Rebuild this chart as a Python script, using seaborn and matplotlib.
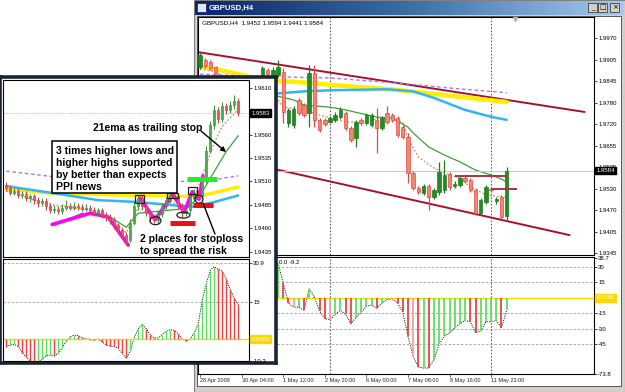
import numpy as np
import matplotlib
matplotlib.use("Agg")
import matplotlib.pyplot as plt
from matplotlib.patches import Rectangle, Ellipse
from matplotlib.colors import LinearSegmentedColormap
import seaborn as sns

sns.set_theme(style="white")
plt.rcParams['font.family'] = ['Liberation Sans', 'DejaVu Sans']
plt.rcParams['axes.linewidth'] = 0.8

# ---------------- main chart data: GBPUSD H4 ----------------
main_open = [1.9886, 1.9906, 1.9900, 1.9886, 1.9848, 1.9825, 1.9842, 1.9819, 1.9804, 1.9831,
             1.9848, 1.9833, 1.9854, 1.9877, 1.9857, 1.9863, 1.9871, 1.9723, 1.9717, 1.9790,
             1.9775, 1.9752, 1.9868, 1.9732, 1.9732, 1.9726, 1.9732, 1.9741, 1.9752, 1.9709,
             1.9680, 1.9732, 1.9723, 1.9717, 1.9732, 1.9709, 1.9752, 1.9746, 1.9738, 1.9712,
             1.9682, 1.9578, 1.9534, 1.9520, 1.9540, 1.9508, 1.9523, 1.9528, 1.9575, 1.9540,
             1.9543, 1.9563, 1.9557, 1.9528, 1.9461, 1.9494, 1.9531, 1.9496, 1.9508, 1.9452]
main_close = [1.9921, 1.9889, 1.9883, 1.9848, 1.9825, 1.9842, 1.9819, 1.9804, 1.9831, 1.9848,
              1.9833, 1.9857, 1.9883, 1.9866, 1.9877, 1.9886, 1.9755, 1.9761, 1.9764, 1.9752,
              1.9746, 1.9868, 1.9732, 1.9703, 1.9720, 1.9738, 1.9746, 1.9761, 1.9709, 1.9674,
              1.9726, 1.9723, 1.9746, 1.9746, 1.9709, 1.9738, 1.9726, 1.9732, 1.9688, 1.9682,
              1.9578, 1.9534, 1.9523, 1.9540, 1.9508, 1.9528, 1.9581, 1.9572, 1.9537, 1.9546,
              1.9563, 1.9555, 1.9528, 1.9461, 1.9499, 1.9537, 1.9528, 1.9502, 1.9450, 1.9584]
main_high = [1.9929, 1.9912, 1.9906, 1.9889, 1.9851, 1.9846, 1.9846, 1.9822, 1.9835, 1.9852,
             1.9852, 1.9860, 1.9889, 1.9883, 1.9886, 1.9906, 1.9883, 1.9767, 1.9773, 1.9796,
             1.9781, 1.9892, 1.9892, 1.9738, 1.9738, 1.9743, 1.9755, 1.9770, 1.9758, 1.9714,
             1.9732, 1.9738, 1.9752, 1.9752, 1.9767, 1.9743, 1.9773, 1.9752, 1.9743, 1.9717,
             1.9694, 1.9583, 1.9540, 1.9546, 1.9546, 1.9534, 1.9610, 1.9615, 1.9581, 1.9555,
             1.9569, 1.9569, 1.9563, 1.9534, 1.9505, 1.9543, 1.9537, 1.9508, 1.9514, 1.9594]
main_low = [1.9880, 1.9883, 1.9877, 1.9842, 1.9820, 1.9820, 1.9815, 1.9798, 1.9800, 1.9828,
            1.9830, 1.9830, 1.9848, 1.9860, 1.9851, 1.9857, 1.9723, 1.9712, 1.9708, 1.9746,
            1.9741, 1.9712, 1.9712, 1.9697, 1.9714, 1.9723, 1.9726, 1.9735, 1.9703, 1.9668,
            1.9653, 1.9717, 1.9717, 1.9712, 1.9636, 1.9703, 1.9720, 1.9726, 1.9682, 1.9677,
            1.9549, 1.9528, 1.9517, 1.9514, 1.9470, 1.9502, 1.9514, 1.9520, 1.9528, 1.9534,
            1.9537, 1.9549, 1.9523, 1.9456, 1.9456, 1.9488, 1.9523, 1.9488, 1.9444, 1.9441]

main_xticks = [0, 8, 16, 24, 32, 40, 48, 56]
main_xlabels = ["28 Apr 2008", "30 Apr 04:00", "1 May 12:00", "2 May 20:00",
                "6 May 00:00", "7 May 08:00", "8 May 16:00", "11 May 23:00"]
main_yticks = [1.9970, 1.9905, 1.9845, 1.9780, 1.9720, 1.9655, 1.9595, 1.9530, 1.9470, 1.9405, 1.9345]
main_vlines = [25, 56]
main_last = 1.9584

ema21_idx = [14, 18, 20, 25, 28, 34, 37, 40, 41, 44, 47, 50, 53, 56, 58, 59]
ema21_val = [1.9804, 1.9790, 1.9775, 1.9769, 1.9761, 1.9740, 1.9737, 1.9711, 1.9694, 1.9653,
             1.9630, 1.9610, 1.9586, 1.9572, 1.9560, 1.9551]
ema8_idx = [0, 3, 6, 9, 12, 16, 20, 23, 28, 31, 35, 39, 40, 42, 45, 48, 50, 52, 55, 58, 59]
ema8_val = [1.9880, 1.9872, 1.9845, 1.9832, 1.9852, 1.9769, 1.9761, 1.9746, 1.9726, 1.9726,
            1.9737, 1.9726, 1.9679, 1.9624, 1.9592, 1.9572, 1.9563, 1.9537, 1.9514, 1.9508, 1.9508]
yellow_idx = [0, 6, 12, 19, 25, 38, 50, 59]
yellow_val = [1.9889, 1.9870, 1.9848, 1.9842, 1.9834, 1.9819, 1.9799, 1.9784]
purple_idx = [0, 14, 25, 38, 50, 59]
purple_val = [1.9865, 1.9857, 1.9854, 1.9839, 1.9822, 1.9811]
blue_idx = [10, 15, 20, 25, 36, 41, 45, 51, 56, 59]
blue_val = [1.9805, 1.9809, 1.9815, 1.9818, 1.9821, 1.9815, 1.9796, 1.9761, 1.9741, 1.9732]
chan_up_idx = [-0.4, 74.0]
chan_up_val = [1.9929, 1.9755]
chan_lo_idx = [-0.4, 71.1]
chan_lo_val = [1.9639, 1.9397]
stop1_idx = [49, 59]
stop1_val = 1.9570
stop2_idx = [56, 61]
stop2_val = 1.9531

ind_start = 15
ind_vals = [34, 14.5, -5, -9, -9, -12, 9, 1, -13, -20, -21, -16, -12, -16, -25,
            -19, -14, -8, -7, -10, -5, -1.5, -1, -5, -14, -37, -57, -67, -68, -68,
            -60, -45, -37, -34, -29, -25, -22, -23, -34, -32, -23, -23, -22, -29, -12]
ind_cols = "grrpgrgrrrpggrrggggrggprrrprgrgggggggrrggggrg"
ind_levels = [30, 15, -15, -30, -45]
ind_yticks = [38.7, 30, 15, -15, -30, -45, -73.8]

# ---------------- inset chart data ----------------
ins_first_open = 1.9506
ins_close = [1.9503, 1.9498, 1.9500, 1.9495, 1.9497, 1.9492, 1.9494, 1.9490, 1.9487, 1.9489,
             1.9484, 1.9479, 1.9481, 1.9478, 1.9482, 1.9484, 1.9482, 1.9484, 1.9483, 1.9481,
             1.9482, 1.9480, 1.9476, 1.9479, 1.9474, 1.9472, 1.9469, 1.9463, 1.9458, 1.9453,
             1.9447, 1.9466, 1.9484, 1.9492, 1.9484, 1.9476, 1.9471, 1.9469, 1.9475, 1.9484,
             1.9490, 1.9496, 1.9494, 1.9484, 1.9476, 1.9479, 1.9492, 1.9498, 1.9494, 1.9511,
             1.9543, 1.9570, 1.9586, 1.9577, 1.9591, 1.9586, 1.9592, 1.9596, 1.9583]
ins_high = [1.9509, 1.9506, 1.9503, 1.9503, 1.9500, 1.9500, 1.9497, 1.9497, 1.9493, 1.9492,
            1.9492, 1.9487, 1.9485, 1.9484, 1.9486, 1.9490, 1.9487, 1.9488, 1.9487, 1.9486,
            1.9486, 1.9485, 1.9483, 1.9482, 1.9482, 1.9477, 1.9475, 1.9472, 1.9466, 1.9461,
            1.9456, 1.9470, 1.9489, 1.9496, 1.9495, 1.9487, 1.9479, 1.9474, 1.9478, 1.9487,
            1.9493, 1.9499, 1.9499, 1.9497, 1.9487, 1.9482, 1.9495, 1.9502, 1.9501, 1.9515,
            1.9548, 1.9575, 1.9592, 1.9590, 1.9595, 1.9594, 1.9596, 1.9602, 1.9599]
ins_low = [1.9500, 1.9495, 1.9495, 1.9492, 1.9492, 1.9489, 1.9488, 1.9486, 1.9483, 1.9484,
           1.9480, 1.9476, 1.9476, 1.9475, 1.9475, 1.9479, 1.9479, 1.9479, 1.9480, 1.9478,
           1.9478, 1.9477, 1.9473, 1.9473, 1.9471, 1.9468, 1.9465, 1.9459, 1.9454, 1.9449,
           1.9442, 1.9445, 1.9463, 1.9480, 1.9481, 1.9473, 1.9467, 1.9466, 1.9466, 1.9472,
           1.9481, 1.9487, 1.9490, 1.9481, 1.9472, 1.9473, 1.9476, 1.9489, 1.9490, 1.9491,
           1.9508, 1.9540, 1.9566, 1.9573, 1.9574, 1.9582, 1.9583, 1.9588, 1.9580]
ins_yticks = [1.9610, 1.9585, 1.9560, 1.9535, 1.9510, 1.9485, 1.9460, 1.9435]
ins_last = 1.9583

ins_yellow_idx = [0, 12, 44, 49, 58]
ins_yellow_val = [1.9502, 1.9497, 1.9494, 1.9495, 1.9504]
ins_blue_idx = [0, 11, 23, 33, 43, 47, 52, 58]
ins_blue_val = [1.9505, 1.9498, 1.9490, 1.9488, 1.9484, 1.9483, 1.9488, 1.9495]
ins_purple_idx = [0, 12, 44, 52, 58]
ins_purple_val = [1.9521, 1.9515, 1.9510, 1.9512, 1.9516]
ins_ema21_idx = [12, 19, 26, 30, 33, 40, 45, 48, 50, 55, 58]
ins_ema21_val = [1.9463, 1.9476, 1.9472, 1.9461, 1.9476, 1.9479, 1.9481, 1.9492, 1.9506, 1.9542, 1.9559]
ins_ema8_idx = [0, 10, 20, 26, 30, 33, 37, 41, 44, 47, 49, 52, 54, 58]
ins_ema8_val = [1.9500, 1.9486, 1.9480, 1.9471, 1.9455, 1.9482, 1.9473, 1.9490, 1.9480, 1.9492,
                1.9516, 1.9551, 1.9569, 1.9587]
mag1_idx = [11.5, 21, 25.5, 30.5]
mag1_val = [1.9464, 1.9476, 1.9472, 1.9442]
mag2_idx = [33.5, 37.2, 41.7, 44.5, 46.5, 48.2, 49.2]
mag2_val = [1.9492, 1.9469, 1.9496, 1.9477, 1.9499, 1.9491, 1.9516]
green_stop = ([45.2, 52.7], 1.9513)
red_stop1 = ([41.0, 47.2], 1.9466)
red_stop2 = ([46.7, 51.7], 1.9485)
hh_boxes = [(32.2, 1.9487, 2.3, 0.0009), (40.2, 1.9492, 2.8, 0.0006), (45.4, 1.9497, 2.3, 0.0007)]
hl_circles = [(37.3, 1.9468, 2.75, 0.00085), (44.3, 1.9474, 3.25, 0.00064), (48.2, 1.9491, 2.0, 0.00085)]

ins_ind = [-3.1, -2.4, -2.2, -2.9, -5.5, -7.3, -8.8, -9.5, -9.4, -8.2,
           -6.7, -6.5, -6.8, -5.9, -3.5, -1.0, 0.9, 1.6, 1.4, 0.5,
           0.1, -0.2, -0.4, -0.1, -1.2, -2.4, -2.9, -3.0, -3.7, -5.8,
           -7.7, -5.0, 0.5, 4.1, 6.0, 4.1, 1.8, 0.4, 0.4, 1.8,
           3.1, 3.8, 3.5, 2.2, 0.0, -0.8, 0.0, 2.4, 6.0, 15.6,
           22.3, 27.7, 29.3, 28.2, 27.5, 24.3, 20.0, 16.6, 14.0]
ins_ind_cols = "rggrrrrrgggg" "rgggggrrrrrg" "rrrrrrrggggr" "rrggggrrrrgg" "gggggrrrrrr"
ins_ind_levels = [30.9, 15]

# ---------------- drawing ----------------
W, H = 625, 392
fig = plt.figure(figsize=(W / 100, H / 100), dpi=100)
TICK_FS = 4.3
COLMAP = {'g': '#5fdf5f', 'r': '#f04040', 'p': '#f4a0a0'}


def rect(x0, y0, x1, y1):
    return [x0 / W, 1 - y1 / H, (x1 - x0) / W, (y1 - y0) / H]


def candles(ax, o, h, l, c, width, up_fc, up_ec, dn_fc, dn_ec, wick_lw, min_h):
    for i, (oo, hh, ll, cc) in enumerate(zip(o, h, l, c)):
        up = cc >= oo
        ec = up_ec if up else dn_ec
        fc = up_fc if up else dn_fc
        ax.vlines(i, ll, hh, color=ec, lw=wick_lw, zorder=4)
        lo = min(oo, cc)
        ht = max(abs(cc - oo), min_h)
        ax.add_patch(Rectangle((i - width / 2, lo), width, ht, facecolor=fc,
                               edgecolor=ec, lw=0.5, zorder=5))


def ma(ax, idx, val, **kw):
    sns.lineplot(x=idx, y=val, ax=ax, legend=False, estimator=None, sort=False, **kw)


def style_axes(ax):
    ax.set_facecolor('white')
    for s in ax.spines.values():
        s.set_color('black')
        s.set_linewidth(0.8)
        s.set_visible(True)
    ax.yaxis.tick_right()
    ax.tick_params(axis='y', which='both', length=2, width=0.5, pad=1,
                   labelsize=TICK_FS, colors='black', left=False, right=True)
    ax.set_xlabel('')
    ax.set_ylabel('')


# background / window chrome
ax_bg = fig.add_axes([0, 0, 1, 1], zorder=0)
ax_bg.set_xlim(0, W)
ax_bg.set_ylim(H, 0)
ax_bg.axis('off')
ax_bg.add_patch(Rectangle((0, 0), W, H, facecolor='white', edgecolor='none'))
ax_bg.add_patch(Rectangle((194, 0), W - 194, H, facecolor='#d4d0c8', edgecolor='#808080', lw=0.8))
ax_bg.add_patch(Rectangle((197, 16), 424, 370, facecolor='white', edgecolor='#404040', lw=0.6))
tb = LinearSegmentedColormap.from_list('tb', ['#0a246a', '#3a6ea5', '#a6caf0'])
ax_bg.imshow(np.linspace(0, 1, 256)[None, :], cmap=tb, extent=(195, 624, 15, 1),
             aspect='auto', zorder=2)
ax_bg.add_patch(Rectangle((197, 3), 9, 9, facecolor='#dfe6f5', edgecolor='#203070', lw=0.6, zorder=3))
ax_bg.text(209, 8, "GBPUSD,H4", color='white', fontsize=5.6, fontweight='bold',
           va='center', ha='left', zorder=3)
for bx, glyph in [(588, '_'), (598, '□'), (610, '×')]:
    ax_bg.add_patch(Rectangle((bx, 3), 9, 9, facecolor='#d4d0c8', edgecolor='#404040', lw=0.6, zorder=3))
    ax_bg.text(bx + 4.5, 7.5, glyph, fontsize=5, ha='center', va='center', color='black',
               zorder=4, family=['DejaVu Sans'])

# main price panel
ax_p = fig.add_axes(rect(198, 17, 594, 255), zorder=1)
candles(ax_p, main_open, main_high, main_low, main_close, 0.66,
        '#228b22', '#1f7a1f', '#f4866e', '#e04848', 0.9, 0.00012)
ma(ax_p, chan_up_idx, chan_up_val, color='#a8102a', lw=1.4)
ma(ax_p, chan_lo_idx, chan_lo_val, color='#a8102a', lw=1.4)
ma(ax_p, yellow_idx, yellow_val, color='#ffee00', lw=3.2)
ma(ax_p, purple_idx, purple_val, color='#b070f0', lw=1.0, linestyle=(0, (2.5, 2)))
ma(ax_p, blue_idx, blue_val, color='#33b5f5', lw=1.8)
ma(ax_p, ema21_idx, ema21_val, color='#3aa03a', lw=0.9)
ma(ax_p, ema8_idx, ema8_val, color='#e0855a', lw=0.9, linestyle=(0, (1.5, 1.5)))
ax_p.axhline(main_last, color='#c8c8c8', lw=0.7, zorder=2)
ax_p.hlines(stop1_val, stop1_idx[0], stop1_idx[1], color='#b03040', lw=1.4, zorder=6)
ax_p.hlines(stop2_val, stop2_idx[0], stop2_idx[1], color='#b03040', lw=1.4, zorder=6)
for v in main_vlines:
    ax_p.axvline(v, color='#606060', lw=0.8, linestyle=(0, (1.5, 1.5)), zorder=1)
ax_p.set_xlim(-0.4, 75.8)
ax_p.set_ylim(1.93392, 2.00311)
style_axes(ax_p)
ax_p.set_xticks([])
ax_p.set_yticks(main_yticks)
ax_p.set_yticklabels([f"{v:.4f}" for v in main_yticks])
ax_p.text(1.006, main_last, f"{main_last:.4f}", transform=ax_p.get_yaxis_transform(),
          fontsize=TICK_FS, color='white', va='center', ha='left', zorder=10, clip_on=False,
          bbox=dict(boxstyle='square,pad=0.2', fc='black', ec='black'))
ax_p.text(0.01, 0.985, "GBPUSD,H4  1.9452 1.9594 1.9441 1.9584", transform=ax_p.transAxes,
          fontsize=4.5, va='top', ha='left', color='black')

# main indicator panel
ax_i = fig.add_axes(rect(198, 257, 594, 374), zorder=1)
idx = list(range(ind_start, ind_start + len(ind_vals)))
ax_i.vlines(idx, 0, ind_vals, colors=[COLMAP[c] for c in ind_cols], lw=1.3, zorder=3)
ma(ax_i, idx, ind_vals, color='#202020', lw=0.7, linestyle=(0, (1.2, 1.2)))
for lv in ind_levels:
    ax_i.axhline(lv, color='#a0a0a0', lw=0.6, linestyle=(0, (3, 2)), zorder=1)
ax_i.axhline(0, color='#ffd700', lw=1.0, zorder=2)
for v in main_vlines:
    ax_i.axvline(v, color='#606060', lw=0.8, linestyle=(0, (1.5, 1.5)), zorder=1)
ax_i.set_xlim(-0.4, 75.8)
ax_i.set_ylim(-73.8, 39.7)
style_axes(ax_i)
ax_i.set_yticks(ind_yticks)
ax_i.set_yticklabels([f"{v:g}" for v in ind_yticks])
ax_i.set_xticks(main_xticks)
ax_i.set_xticklabels(main_xlabels, ha='left')
ax_i.tick_params(axis='x', length=2, width=0.5, pad=1, labelsize=4.0, bottom=True)
ax_i.text(1.006, 0, "0.0000", transform=ax_i.get_yaxis_transform(), fontsize=TICK_FS,
          color='white', va='center', ha='left', zorder=10, clip_on=False,
          bbox=dict(boxstyle='square,pad=0.2', fc='#ffd700', ec='#ffd700'))

# inset window
ax_ibg = fig.add_axes(rect(0, 77, 276, 363), zorder=5)
ax_ibg.set_facecolor('white')
ax_ibg.set_xticks([])
ax_ibg.set_yticks([])
for s in ax_ibg.spines.values():
    s.set_color('#1b2631')
    s.set_linewidth(2.6)
    s.set_visible(True)

ax_ip = fig.add_axes(rect(3, 80, 249, 257), zorder=6)
ins_open = [ins_first_open] + ins_close[:-1]
candles(ax_ip, ins_open, ins_high, ins_low, ins_close, 0.45,
        '#4caf50', '#3c9a3c', '#e06060', '#d04545', 0.8, 0.00004)
ma(ax_ip, ins_purple_idx, ins_purple_val, color='#b070f0', lw=1.0, linestyle=(0, (2.5, 2)))
ma(ax_ip, ins_yellow_idx, ins_yellow_val, color='#ffee00', lw=2.4)
ma(ax_ip, ins_blue_idx, ins_blue_val, color='#33b5f5', lw=1.8)
ma(ax_ip, ins_ema21_idx, ins_ema21_val, color='#3aa03a', lw=0.9)
ma(ax_ip, ins_ema8_idx, ins_ema8_val, color='#e0855a', lw=0.9, linestyle=(0, (1.5, 1.5)))
ma(ax_ip, mag1_idx, mag1_val, color='#ff00ff', lw=2.6)
ma(ax_ip, mag2_idx, mag2_val, color='#ff00ff', lw=2.6)
ax_ip.hlines(green_stop[1], *green_stop[0], color='#22ee22', lw=3.6, zorder=7)
ax_ip.hlines(red_stop1[1], *red_stop1[0], color='#ee1111', lw=3.6, zorder=7)
ax_ip.hlines(red_stop2[1], *red_stop2[0], color='#ee1111', lw=3.6, zorder=7)
for bx, by, bw, bh in hh_boxes:
    ax_ip.add_patch(Rectangle((bx, by), bw, bh, fill=False, edgecolor='#202020', lw=0.9, zorder=8))
for ex, ey, ew, eh in hl_circles:
    ax_ip.add_patch(Ellipse((ex, ey), ew, eh, fill=False, edgecolor='#202020', lw=0.9, zorder=8))
ax_ip.axhline(ins_last, color='#f0b0c0', lw=0.7, linestyle=(0, (1.5, 1.5)), zorder=2)
ax_ip.set_xlim(-0.8, 60.7)
ax_ip.set_ylim(1.94292, 1.96185)
style_axes(ax_ip)
ax_ip.set_xticks([])
ax_ip.set_yticks(ins_yticks)
ax_ip.set_yticklabels([f"{v:.4f}" for v in ins_yticks])
ax_ip.text(1.01, ins_last, f"{ins_last:.4f}", transform=ax_ip.get_yaxis_transform(),
           fontsize=TICK_FS, color='white', va='center', ha='left', zorder=10, clip_on=False,
           bbox=dict(boxstyle='square,pad=0.2', fc='black', ec='black'))

ax_ii = fig.add_axes(rect(3, 259, 249, 361), zorder=6)
iidx = list(range(len(ins_ind)))
ax_ii.vlines(iidx, 0, ins_ind, colors=[COLMAP[c] for c in ins_ind_cols], lw=1.0, zorder=3)
ma(ax_ii, iidx, ins_ind, color='#202020', lw=0.7, linestyle=(0, (1.2, 1.2)))
for lv in ins_ind_levels:
    ax_ii.axhline(lv, color='#a0a0a0', lw=0.6, linestyle=(0, (3, 2)), zorder=1)
ax_ii.axhline(0, color='#ffd700', lw=1.0, zorder=2)
ax_ii.set_xlim(-0.8, 60.7)
ax_ii.set_ylim(-8.9, 32.4)
style_axes(ax_ii)
ax_ii.set_xticks([])
ax_ii.set_yticks([30.9, 15, -8.9])
ax_ii.set_yticklabels(["30.9", "15", "-10.3"])
ax_ii.text(1.01, 0, "0.0000", transform=ax_ii.get_yaxis_transform(), fontsize=TICK_FS,
           color='white', va='center', ha='left', zorder=10, clip_on=False,
           bbox=dict(boxstyle='square,pad=0.2', fc='#ffd700', ec='#ffd700'))

# overlay: annotations
ax_ov = fig.add_axes([0, 0, 1, 1], zorder=20)
ax_ov.set_xlim(0, W)
ax_ov.set_ylim(H, 0)
ax_ov.axis('off')
ax_ov.patch.set_alpha(0)
ax_ov.text(279, 263, "0.0 -9.2", fontsize=TICK_FS, va='center', ha='left', color='black')
ax_ov.plot([515], [18.5], marker='v', color='#b0b0b0', markersize=3)
ANN = dict(fontsize=7.5, fontweight='bold', color='black', va='center', ha='left')
ax_ov.text(93, 128, "21ema as trailing stop", **ANN)
ax_ov.add_patch(Rectangle((52, 141), 125, 52, facecolor='white', edgecolor='black', lw=1.1))
for k, line in enumerate(["3 times higher lows and", "higher highs supported",
                          "by better than expects", "PPI news"]):
    ax_ov.text(56, 150.5 + k * 12.3, line, **ANN)
ax_ov.text(140, 239, "2 places for stoploss", **ANN)
ax_ov.text(140, 251.5, "to spread the risk", **ANN)
ax_ov.annotate('', xy=(226, 152), xytext=(201, 131),
               arrowprops=dict(arrowstyle='-|>', color='black', lw=1.0, mutation_scale=7,
                               shrinkA=0, shrinkB=0))
ax_ov.plot([215, 203], [234, 203], color='black', lw=1.0)

fig.savefig("out.png", dpi=100)
